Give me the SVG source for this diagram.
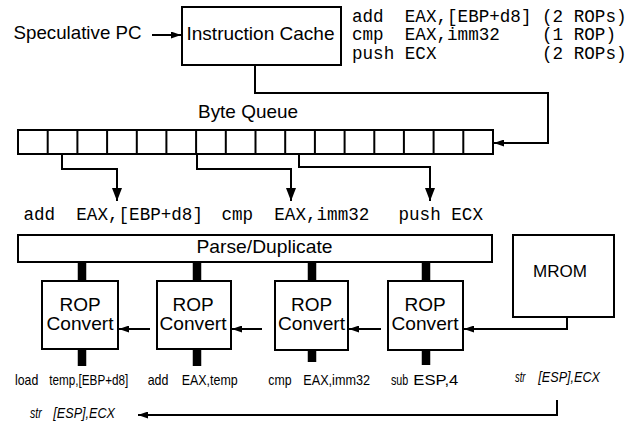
<svg xmlns="http://www.w3.org/2000/svg" width="638" height="423" viewBox="0 0 638 423">
<style>
.box{fill:#fff;stroke:#000;stroke-width:2}
.ln{fill:none;stroke:#000;stroke-width:2}
.bus{fill:none;stroke:#000;stroke-width:8.5}
.sans{font-family:"Liberation Sans",Arial,sans-serif;fill:#000}
.mono{font-family:"Liberation Mono","Courier New",monospace;font-size:17.6px;fill:#000;white-space:pre}
.big{font-size:18.5px}
.rop{font-size:19px;text-anchor:middle}
.small{font-size:14.5px}
.it{font-style:italic}
</style>
<defs>
<marker id="ah" viewBox="0 0 13 10" refX="13" refY="5" markerWidth="13" markerHeight="10" markerUnits="userSpaceOnUse" orient="auto"><path d="M0,0 L13,5 L0,10 z" fill="#000"/></marker>
<marker id="as" viewBox="0 0 10 7" refX="10" refY="3.5" markerWidth="10" markerHeight="7" markerUnits="userSpaceOnUse" orient="auto"><path d="M0,0 L10,3.5 L0,7 z" fill="#000"/></marker>
</defs>
<rect width="638" height="423" fill="#fff"/>

<g id="connectors">
<path class="ln" d="M152,35 H181" marker-end="url(#as)"/>
<path class="ln" d="M255,65 V93 H548 V143 H494" marker-end="url(#as)"/>
<path class="ln" d="M62,154 V169 H117 V201" marker-end="url(#ah)"/>
<path class="ln" d="M197,154 V169 H291 V201" marker-end="url(#ah)"/>
<path class="ln" d="M299,154 V167 H430 V201" marker-end="url(#ah)"/>
<path class="bus" d="M82,262 V281 M82,349 V366 M197,262 V281 M197,349 V366 M312,262 V281 M312,350 V362 M426,262 V281 M426,350 V365"/>
<path class="ln" d="M150,329 H119" marker-end="url(#as)"/>
<path class="ln" d="M262,329 H232" marker-end="url(#as)"/>
<path class="ln" d="M381,329 H349" marker-end="url(#as)"/>
<path class="ln" d="M567,317 V329 H464" marker-end="url(#as)"/>
<path class="ln" d="M557,400 V415 H138" marker-end="url(#as)"/>
</g>

<g id="speculative-pc">
<text class="sans big" x="13.5" y="39" textLength="128" lengthAdjust="spacingAndGlyphs">Speculative PC</text>
</g>

<g id="instruction-cache">
<rect class="box" x="182" y="7" width="159" height="58"/>
<text class="sans big" x="186.5" y="40" textLength="148" lengthAdjust="spacingAndGlyphs">Instruction Cache</text>
</g>

<g id="instruction-list">
<text class="mono" xml:space="preserve" x="352" y="21.5">add  EAX,[EBP+d8] (2 ROPs)</text>
<text class="mono" xml:space="preserve" x="352" y="40">cmp  EAX,imm32    (1 ROP)</text>
<text class="mono" xml:space="preserve" x="352" y="58.5">push ECX          (2 ROPs)</text>
</g>

<g id="byte-queue">
<text class="sans big" x="198" y="118" textLength="100" lengthAdjust="spacingAndGlyphs">Byte Queue</text>
<rect class="box" x="18" y="130" width="475" height="24"/>
<path class="ln" d="M47.7,130V154 M77.4,130V154 M107.1,130V154 M136.8,130V154 M166.4,130V154 M196.1,130V154 M225.8,130V154 M255.5,130V154 M285.2,130V154 M314.9,130V154 M344.6,130V154 M374.3,130V154 M403.9,130V154 M433.6,130V154 M463.3,130V154"/>
</g>

<g id="decoded-instructions">
<text class="mono" xml:space="preserve" x="23.5" y="220">add  EAX,[EBP+d8]</text>
<text class="mono" xml:space="preserve" x="221.5" y="220">cmp  EAX,imm32</text>
<text class="mono" xml:space="preserve" x="398.5" y="220">push ECX</text>
</g>

<g id="parse-duplicate">
<rect class="box" x="18" y="235" width="474" height="27"/>
<text class="sans big" x="196.5" y="253" textLength="136" lengthAdjust="spacingAndGlyphs">Parse/Duplicate</text>
</g>

<g id="mrom">
<rect class="box" x="513" y="235" width="101" height="82"/>
<text class="sans" font-size="17" x="533" y="277" textLength="54" lengthAdjust="spacingAndGlyphs">MROM</text>
</g>

<g id="rop-convert-1">
<rect class="box" x="42" y="281" width="76" height="68"/>
<text class="sans rop" x="80" y="311">ROP</text>
<text class="sans rop" x="80" y="330" textLength="67" lengthAdjust="spacingAndGlyphs">Convert</text>
</g>
<g id="rop-convert-2">
<rect class="box" x="157" y="281" width="74" height="68"/>
<text class="sans rop" x="193" y="311">ROP</text>
<text class="sans rop" x="193" y="330" textLength="67" lengthAdjust="spacingAndGlyphs">Convert</text>
</g>
<g id="rop-convert-3">
<rect class="box" x="275" y="281" width="73" height="69"/>
<text class="sans rop" x="311.5" y="311">ROP</text>
<text class="sans rop" x="311.5" y="330" textLength="67" lengthAdjust="spacingAndGlyphs">Convert</text>
</g>
<g id="rop-convert-4">
<rect class="box" x="388" y="281" width="75" height="69"/>
<text class="sans rop" x="425" y="311">ROP</text>
<text class="sans rop" x="425" y="330" textLength="67" lengthAdjust="spacingAndGlyphs">Convert</text>
</g>

<g id="rop-outputs">
<text class="sans small" y="385"><tspan x="15" textLength="23.3" lengthAdjust="spacingAndGlyphs">load</tspan> <tspan x="49.3" textLength="79" lengthAdjust="spacingAndGlyphs">temp,[EBP+d8]</tspan></text>
<text class="sans small" y="385"><tspan x="147.7" textLength="20.7" lengthAdjust="spacingAndGlyphs">add</tspan> <tspan x="181.7" textLength="56" lengthAdjust="spacingAndGlyphs">EAX,temp</tspan></text>
<text class="sans small" y="385"><tspan x="268.3" textLength="23.3" lengthAdjust="spacingAndGlyphs">cmp</tspan> <tspan x="303.3" textLength="66.7" lengthAdjust="spacingAndGlyphs">EAX,imm32</tspan></text>
<text class="sans small" y="385"><tspan x="391" textLength="17.3" lengthAdjust="spacingAndGlyphs">sub</tspan> <tspan x="413.3" textLength="45" lengthAdjust="spacingAndGlyphs">ESP,4</tspan></text>
<text class="sans small it" y="382"><tspan x="515" textLength="10.5" lengthAdjust="spacingAndGlyphs">str</tspan> <tspan x="538.3" textLength="61.7" lengthAdjust="spacingAndGlyphs">[ESP],ECX</tspan></text>
<text class="sans small it" y="418"><tspan x="30" textLength="11.7" lengthAdjust="spacingAndGlyphs">str</tspan> <tspan x="53.3" textLength="61.7" lengthAdjust="spacingAndGlyphs">[ESP],ECX</tspan></text>
</g>
</svg>
